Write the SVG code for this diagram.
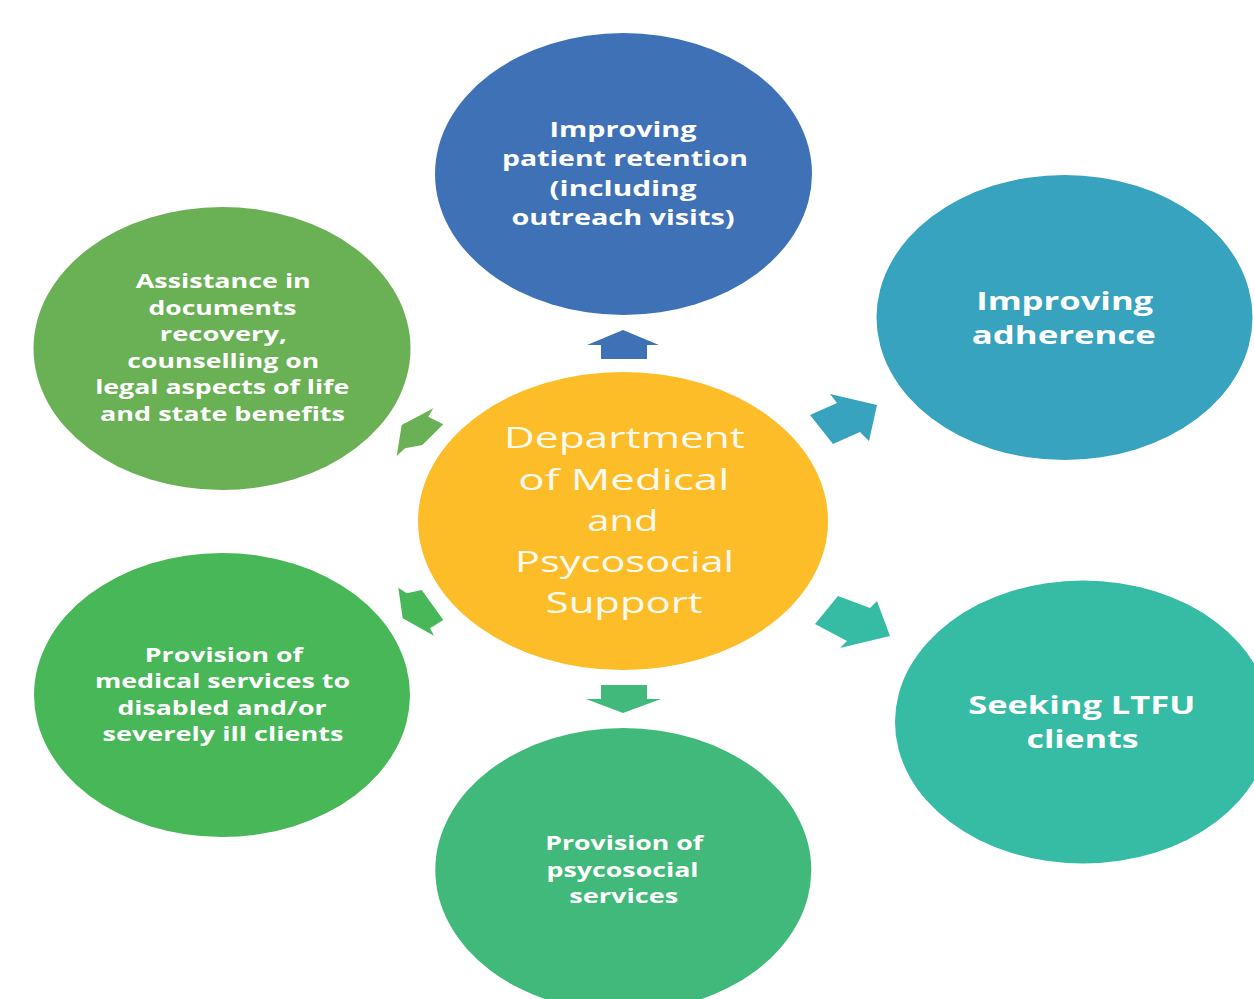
<svg xmlns="http://www.w3.org/2000/svg" width="1254" height="999" viewBox="0 0 1254 999">
  <style>
    .node-label { font-family: "Open Sans", "Liberation Sans", sans-serif; font-weight: 700; fill: #ffffff; text-anchor: middle; }
    .small { font-size: 19.4px; }
    .mid { font-size: 21.5px; }
    .big { font-size: 25px; }
    .hub-label { font-family: "Open Sans", "Liberation Sans", sans-serif; font-weight: 400; font-size: 30px; fill: #fffaf0; text-anchor: middle; }
  </style>
  <rect width="1254" height="999" fill="#ffffff"/>

  <!-- outward block arrows from the hub to each service -->
  <g id="connectors">
    <polygon fill="#3F71B7" points="623,330 659,345 647,345 647,359 601,359 601,345 587,345"/>
    <polygon fill="#37A3BF" points="810,415 837,403 830,394 877,405 869,441 860,432 833,444"/>
    <polygon fill="#36BBA5" points="815,624 838,596 870,608 877,601 890,636 840,648 847,641"/>
    <polygon fill="#41B97A" points="601,685 647,685 647,699 661,699 623,713 586,699 601,699"/>
    <polygon fill="#47B757" points="402.7,618.3 398.3,587.7 406.7,593.3 421.7,590 443.3,620 430,628.3 434,635.7"/>
    <polygon fill="#6AB155" points="401.7,425 433.3,408.3 428.3,416.7 443.3,424.3 422.3,445 405,448.3 396.7,456"/>
  </g>

  <g id="hub">
    <ellipse cx="623" cy="521" rx="205" ry="149" fill="#FCBD28"/>
    <text class="hub-label" x="624.5" y="448.3" textLength="241" lengthAdjust="spacingAndGlyphs">Department</text>
    <text class="hub-label" x="623.8" y="490" textLength="211" lengthAdjust="spacingAndGlyphs">of Medical</text>
    <text class="hub-label" x="622.8" y="530.7" textLength="71" lengthAdjust="spacingAndGlyphs">and</text>
    <text class="hub-label" x="624.5" y="571.7" textLength="219" lengthAdjust="spacingAndGlyphs">Psycosocial</text>
    <text class="hub-label" x="624.2" y="613.3" textLength="157" lengthAdjust="spacingAndGlyphs">Support</text>
  </g>

  <g id="retention">
    <ellipse cx="623.5" cy="174" rx="188.5" ry="141" fill="#3F71B7"/>
    <text class="node-label mid" x="623" y="136.7" textLength="147" lengthAdjust="spacingAndGlyphs">Improving</text>
    <text class="node-label mid" x="625" y="166.2" textLength="246" lengthAdjust="spacingAndGlyphs">patient retention</text>
    <text class="node-label mid" x="623" y="195.7" textLength="147" lengthAdjust="spacingAndGlyphs">(including</text>
    <text class="node-label mid" x="623" y="225.2" textLength="223" lengthAdjust="spacingAndGlyphs">outreach visits)</text>
  </g>

  <g id="adherence">
    <ellipse cx="1064.5" cy="317.5" rx="188" ry="142.5" fill="#37A3BF"/>
    <text class="node-label big" x="1064.7" y="310" textLength="177" lengthAdjust="spacingAndGlyphs">Improving</text>
    <text class="node-label big" x="1063.8" y="344" textLength="184" lengthAdjust="spacingAndGlyphs">adherence</text>
  </g>

  <g id="ltfu">
    <ellipse cx="1083" cy="722" rx="188" ry="141.5" fill="#36BBA5"/>
    <text class="node-label big" x="1081.7" y="714.3" textLength="227" lengthAdjust="spacingAndGlyphs">Seeking LTFU</text>
    <text class="node-label big" x="1082.5" y="748.3" textLength="112" lengthAdjust="spacingAndGlyphs">clients</text>
  </g>

  <g id="psycosocial">
    <ellipse cx="623.3" cy="870" rx="188" ry="142" fill="#41B97A"/>
    <text class="node-label small" x="624.2" y="850" textLength="158" lengthAdjust="spacingAndGlyphs">Provision of</text>
    <text class="node-label small" x="622.5" y="876.5" textLength="152" lengthAdjust="spacingAndGlyphs">psycosocial</text>
    <text class="node-label small" x="623.8" y="903" textLength="109" lengthAdjust="spacingAndGlyphs">services</text>
  </g>

  <g id="medical">
    <ellipse cx="222" cy="695" rx="188" ry="142" fill="#47B757"/>
    <text class="node-label small" x="223.8" y="661.7" textLength="158" lengthAdjust="spacingAndGlyphs">Provision of</text>
    <text class="node-label small" x="222.5" y="688.2" textLength="255" lengthAdjust="spacingAndGlyphs">medical services to</text>
    <text class="node-label small" x="222" y="714.7" textLength="209" lengthAdjust="spacingAndGlyphs">disabled and/or</text>
    <text class="node-label small" x="223" y="741.2" textLength="241" lengthAdjust="spacingAndGlyphs">severely ill clients</text>
  </g>

  <g id="documents">
    <ellipse cx="222" cy="348.5" rx="188.5" ry="141.5" fill="#6AB155"/>
    <text class="node-label small" x="223.3" y="288" textLength="175" lengthAdjust="spacingAndGlyphs">Assistance in</text>
    <text class="node-label small" x="222.5" y="314.5" textLength="148" lengthAdjust="spacingAndGlyphs">documents</text>
    <text class="node-label small" x="223.3" y="341" textLength="127" lengthAdjust="spacingAndGlyphs">recovery,</text>
    <text class="node-label small" x="223.3" y="367.5" textLength="192" lengthAdjust="spacingAndGlyphs">counselling on</text>
    <text class="node-label small" x="222.2" y="394" textLength="254" lengthAdjust="spacingAndGlyphs">legal aspects of life</text>
    <text class="node-label small" x="222.5" y="420.5" textLength="245" lengthAdjust="spacingAndGlyphs">and state benefits</text>
  </g>
</svg>
